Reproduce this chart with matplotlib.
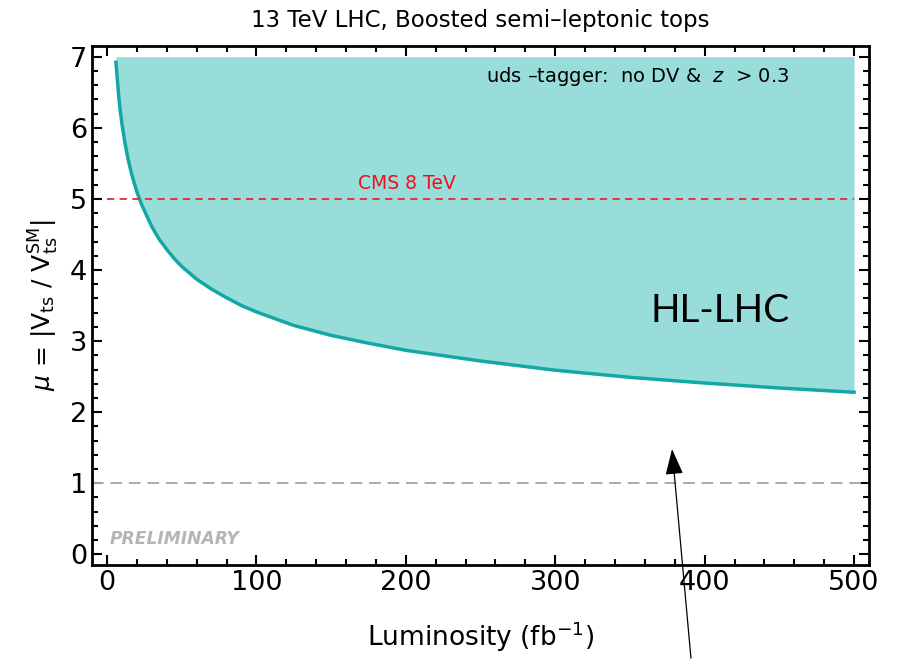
import matplotlib
matplotlib.use("Agg")
import matplotlib.pyplot as plt
from matplotlib.ticker import MultipleLocator

# Sensitivity curve
lumi = [6, 7, 8, 9, 10, 12, 14, 16, 18, 20, 23, 26, 30, 35, 40, 45, 50, 60, 70, 80, 90,
        100, 125, 150, 175, 200, 250, 300, 350, 400, 450, 500]
mu = [6.92, 6.66, 6.41, 6.22, 6.06, 5.79, 5.57, 5.39, 5.24, 5.10, 4.93, 4.79, 4.61, 4.43,
      4.29, 4.16, 4.05, 3.87, 3.73, 3.61, 3.50, 3.41, 3.22, 3.08, 2.97, 2.87, 2.72, 2.59,
      2.49, 2.41, 2.34, 2.28]

mu_top = 7.0
cms8_mu = 5.0
sm_mu = 1.0
x_ticks = [0, 100, 200, 300, 400, 500]
y_ticks = [0, 1, 2, 3, 4, 5, 6, 7]

fig = plt.figure(figsize=(8.97, 6.62), dpi=100)
ax = fig.add_axes([0.1026, 0.1465, 0.8662, 0.784])

ax.fill_between(lumi, mu, mu_top, color="#99dddb", lw=0)
ax.plot(lumi, mu, color="#13a8a6", lw=2.5)

ax.hlines(cms8_mu, 0, 500, colors="#e8282a", linestyles=(0, (4, 3)), lw=1.3)
ax.axhline(sm_mu, color="#aaaaaa", ls=(0, (6, 3.5)), lw=1.4)

ax.text(201, 5.21, "CMS 8 TeV", color="#f0101a", fontsize=13.5, ha="center", va="center")
ax.text(457, 6.72, "uds –tagger:  no DV &  $z$  > 0.3", fontsize=14, ha="right", va="center")
ax.text(410, 3.42, "HL-LHC", fontsize=28, ha="center", va="center", family="Lato",
        fontweight="normal")
ax.text(2, 0.22, "PRELIMINARY", fontsize=12.3, color="#b5b5b5", fontweight="bold",
        fontstyle="italic", ha="left", va="center")

ax.annotate("", xy=(378, 1.52), xytext=(391, -1.5), xycoords="data",
            annotation_clip=False,
            arrowprops=dict(arrowstyle="-|>,head_length=1.6,head_width=0.55",
                            color="black", lw=0.9))

ax.set_xlim(-10, 510)
ax.set_ylim(-0.15, 7.15)
ax.set_xticks(x_ticks)
ax.set_yticks(y_ticks)
ax.xaxis.set_minor_locator(MultipleLocator(20))
ax.yaxis.set_minor_locator(MultipleLocator(0.2))
ax.tick_params(which="both", direction="in", top=True, right=True, labelsize=19.5, width=1.5)
ax.tick_params(which="major", length=7)
ax.tick_params(which="minor", length=4)
for s in ax.spines.values():
    s.set_linewidth(2)

ax.set_xlabel("Luminosity (fb$^{-1}$)", fontsize=19, labelpad=17)
ax.set_ylabel(r"$\mu$ = |V$_{\rm ts}$ / V$_{\rm ts}^{\rm SM}$|", fontsize=18, labelpad=6)
ax.set_title("13 TeV LHC, Boosted semi–leptonic tops", fontsize=16.5, pad=14)

fig.savefig("out.png", dpi=100)
